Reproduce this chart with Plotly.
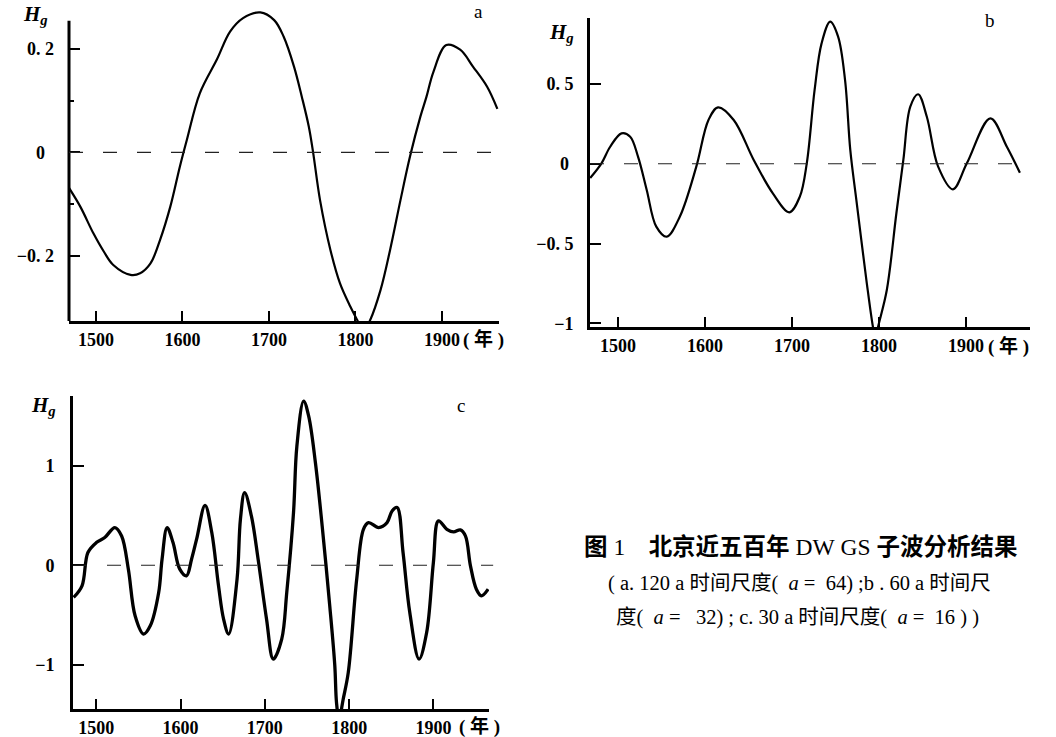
import plotly.graph_objects as go

W, H = 1056, 737

# ---------------- data ----------------
years_a = [1469, 1482, 1497, 1509, 1520, 1540, 1551, 1563, 1574, 1586, 1597, 1605, 1620, 1640,
           1655, 1670, 1690, 1706, 1717, 1729, 1738, 1746, 1751, 1759, 1771, 1782, 1794, 1802,
           1809, 1817, 1829, 1840, 1852, 1863, 1875, 1882, 1890, 1905, 1921, 1936, 1952, 1964]
hg_a = [-0.069, -0.105, -0.156, -0.191, -0.217, -0.236, -0.233, -0.214, -0.169, -0.104, -0.027,
        0.024, 0.114, 0.180, 0.233, 0.259, 0.270, 0.255, 0.223, 0.165, 0.107, 0.050, 0.0, -0.092,
        -0.188, -0.252, -0.297, -0.323, -0.345, -0.323, -0.265, -0.188, -0.092, -0.008, 0.069,
        0.107, 0.155, 0.207, 0.198, 0.165, 0.127, 0.084]

years_b = [1468, 1481, 1491, 1504, 1514, 1523, 1533, 1544, 1556, 1571, 1590, 1604, 1615, 1633,
           1656, 1678, 1697, 1709, 1717, 1726, 1734, 1744, 1753, 1761, 1767, 1774, 1786, 1793,
           1796, 1799, 1809, 1820, 1828, 1836, 1845, 1855, 1868, 1885, 1901, 1928, 1947, 1962]
hg_b = [-0.089, 0.003, 0.107, 0.191, 0.17, 0.045, -0.164, -0.394, -0.457, -0.332, -0.018, 0.275,
        0.354, 0.275, 0.024, -0.185, -0.304, -0.206, 0.003, 0.463, 0.755, 0.891, 0.797, 0.525,
        0.087, -0.227, -0.749, -1.021, -1.1, -1.021, -0.791, -0.31, 0.024, 0.358, 0.436, 0.295,
        -0.018, -0.16, 0.003, 0.285, 0.107, -0.056]

years_c = [1473, 1483, 1490, 1500, 1510, 1522, 1530, 1538, 1546, 1556, 1564, 1574, 1578, 1584,
           1591, 1599, 1607, 1613, 1619, 1629, 1637, 1645, 1651, 1657, 1667, 1671, 1676, 1684,
           1692, 1702, 1710, 1720, 1726, 1734, 1738, 1746, 1752, 1760, 1768, 1777, 1783, 1785,
           1788, 1793, 1799, 1809, 1817, 1823, 1835, 1845, 1851, 1857, 1864, 1872, 1883, 1892,
           1900, 1906, 1916, 1924, 1932, 1938, 1944, 1951, 1957, 1965]
hg_c = [-0.324, -0.207, 0.127, 0.227, 0.278, 0.378, 0.294, -0.04, -0.508, -0.692, -0.609, -0.274,
        0.06, 0.378, 0.227, -0.04, -0.107, 0.06, 0.261, 0.602, 0.328, -0.207, -0.542, -0.692,
        -0.14, 0.462, 0.729, 0.495, 0.06, -0.542, -0.943, -0.742, -0.274, 0.528, 1.197, 1.649,
        1.498, 1.03, 0.395, -0.408, -1.01, -1.378, -1.55, -1.344, -1.077, -0.14, 0.361, 0.428,
        0.378, 0.428, 0.545, 0.579, 0.127, -0.475, -0.943, -0.676, 0.027, 0.445, 0.361, 0.334,
        0.355, 0.294, -0.007, -0.241, -0.308, -0.241]

x_ticks = [1500, 1600, 1700, 1800, 1900]
x_labels = ["1500", "1600", "1700", "1800", "1900"]
ya_ticks = [-0.2, 0, 0.2]
ya_labels = ["\u22120. 2", "0\u00a0\u00a0", "0. 2"]
yb_ticks = [-1, -0.5, 0, 0.5]
yb_labels = ["\u22121", "\u22120. 5", "0\u00a0", "0. 5"]
yc_ticks = [-1, 0, 1]
yc_labels = ["\u22121", "0", "1"]

caption1 = "<b>图</b>\u00a01\u00a0\u00a0\u00a0\u00a0<b>北京近五百年</b> DW\u00a0GS <b>子波分析结果</b>"
caption2 = "(\u00a0a.\u00a0120 a 时间尺度(\u00a0\u00a0<i>a</i> =\u00a0\u00a064)\u00a0;b\u00a0.\u00a060 a 时间尺"
caption3 = "度(\u00a0\u00a0<i>a</i> =\u00a0\u00a0\u00a032)\u00a0; c.\u00a030 a 时间尺度(\u00a0\u00a0<i>a</i> =\u00a0\u00a016\u00a0)\u00a0)"
year_unit = "(\u00a0年\u00a0)"

# ---------------- figure ----------------
fig = go.Figure()
line_common = dict(color="black", shape="spline", smoothing=1.0)
fig.add_trace(go.Scatter(x=years_a, y=hg_a, mode="lines", line=dict(width=2.2, **line_common),
                         xaxis="x", yaxis="y", showlegend=False))
fig.add_trace(go.Scatter(x=years_b, y=hg_b, mode="lines", line=dict(width=2.2, **line_common),
                         xaxis="x2", yaxis="y2", showlegend=False))
fig.add_trace(go.Scatter(x=years_c, y=hg_c, mode="lines", line=dict(width=3.3, **line_common),
                         xaxis="x3", yaxis="y3", showlegend=False))

tickfont = dict(family="Liberation Serif", size=18, color="black", weight="bold")


def xax(domain, rng, anchor):
    return dict(domain=domain, range=rng, anchor=anchor, showline=True, linewidth=3,
                linecolor="black", ticks="inside", ticklen=10, tickwidth=1.5, tickcolor="black",
                tickvals=x_ticks, ticktext=x_labels, showgrid=False, zeroline=False,
                tickfont=tickfont, ticklabelstandoff=0, fixedrange=True, automargin=False)


def yax(domain, rng, anchor, tv, tt, standoff, showline=True):
    return dict(domain=domain, range=rng, anchor=anchor, showline=showline, linewidth=3,
                linecolor="black", ticks="inside", ticklen=11, tickwidth=1.5, tickcolor="black",
                tickvals=tv, ticktext=tt, showgrid=False, zeroline=False,
                tickfont=tickfont, ticklabelstandoff=standoff, fixedrange=True, automargin=False)


ya = yax([1 - 321 / H, 1 - 2 / H], [-0.325, 0.29], "x", ya_ticks, ya_labels, 14, showline=False)
ya["minor"] = dict(tickvals=[-0.1, 0.1], ticks="inside", ticklen=5, tickwidth=1.5, tickcolor="black")

fig.update_layout(
    template="none",
    width=W, height=H, margin=dict(l=0, r=0, t=0, b=0, autoexpand=False),
    paper_bgcolor="white", plot_bgcolor="white", showlegend=False,
    xaxis=xax([69 / W, 499 / W], [1468.8, 1965.9], "y"),
    yaxis=ya,
    xaxis2=xax([590 / W, 1030 / W], [1467.8, 1973.6], "y2"),
    yaxis2=yax([1 - 327 / H, 1 - 18 / H], [-1.023, 0.914], "x2", yb_ticks, yb_labels, 10),
    xaxis3=xax([73 / W, 489 / W], [1472.3, 1966.0], "y3"),
    yaxis3=yax([1 - 709 / H, 1 - 396 / H], [-1.445, 1.70], "x3", yc_ticks, yc_labels, 12),
)

# left axis line of panel a (curve rises above its top end)
fig.add_shape(type="line", xref="x domain", yref="y", x0=0, x1=0, y0=-0.325, y1=0.254,
              line=dict(color="black", width=3))

# dashed zero lines
for xr, yr, x1 in [("x domain", "y", 0.985), ("x2 domain", "y2", 0.975), ("x3 domain", "y3", 1.01)]:
    fig.add_shape(type="line", xref=xr, yref=yr, x0=0, x1=x1, y0=0, y1=0,
                  line=dict(color="#222", width=1.1, dash="14px,20px"))

ann = []
hg_text = "<b><i>H</i></b><sub><b><i>g</i></b></sub>"
for (px, py) in [(35, 15), (561, 33), (43, 406)]:
    ann.append(dict(x=px / W, y=1 - py / H, xref="paper", yref="paper", text=hg_text,
                    showarrow=False, xanchor="center", yanchor="middle",
                    font=dict(family="Liberation Serif", size=21, color="black")))
for (px, py, t) in [(478, 11, "a"), (990, 21, "b"), (461, 405, "c")]:
    ann.append(dict(x=px / W, y=1 - py / H, xref="paper", yref="paper", text=t,
                    showarrow=False, xanchor="center", yanchor="middle",
                    font=dict(family="Liberation Serif", size=19, color="black")))
for (px, py) in [(483, 339), (1008, 346), (479, 726)]:
    ann.append(dict(x=px / W, y=1 - py / H, xref="paper", yref="paper", text=year_unit,
                    showarrow=False, xanchor="center", yanchor="middle",
                    font=dict(family="Liberation Serif, Noto Sans CJK SC", size=19,
                              color="black", weight="bold")))

capfont = "Liberation Serif, Noto Sans CJK SC"
ann.append(dict(x=800 / W, y=1 - 547 / H, xref="paper", yref="paper", text=caption1,
                showarrow=False, xanchor="center", yanchor="middle",
                font=dict(family=capfont, size=23.5, color="black")))
ann.append(dict(x=799 / W, y=1 - 583 / H, xref="paper", yref="paper", text=caption2,
                showarrow=False, xanchor="center", yanchor="middle",
                font=dict(family=capfont, size=20.5, color="black")))
ann.append(dict(x=797 / W, y=1 - 617 / H, xref="paper", yref="paper", text=caption3,
                showarrow=False, xanchor="center", yanchor="middle",
                font=dict(family=capfont, size=20.5, color="black")))
fig.update_layout(annotations=ann)

fig.write_html("out.html", config={"displayModeBar": False},
               post_script="document.body.style.margin='0';document.body.style.padding='0';")
